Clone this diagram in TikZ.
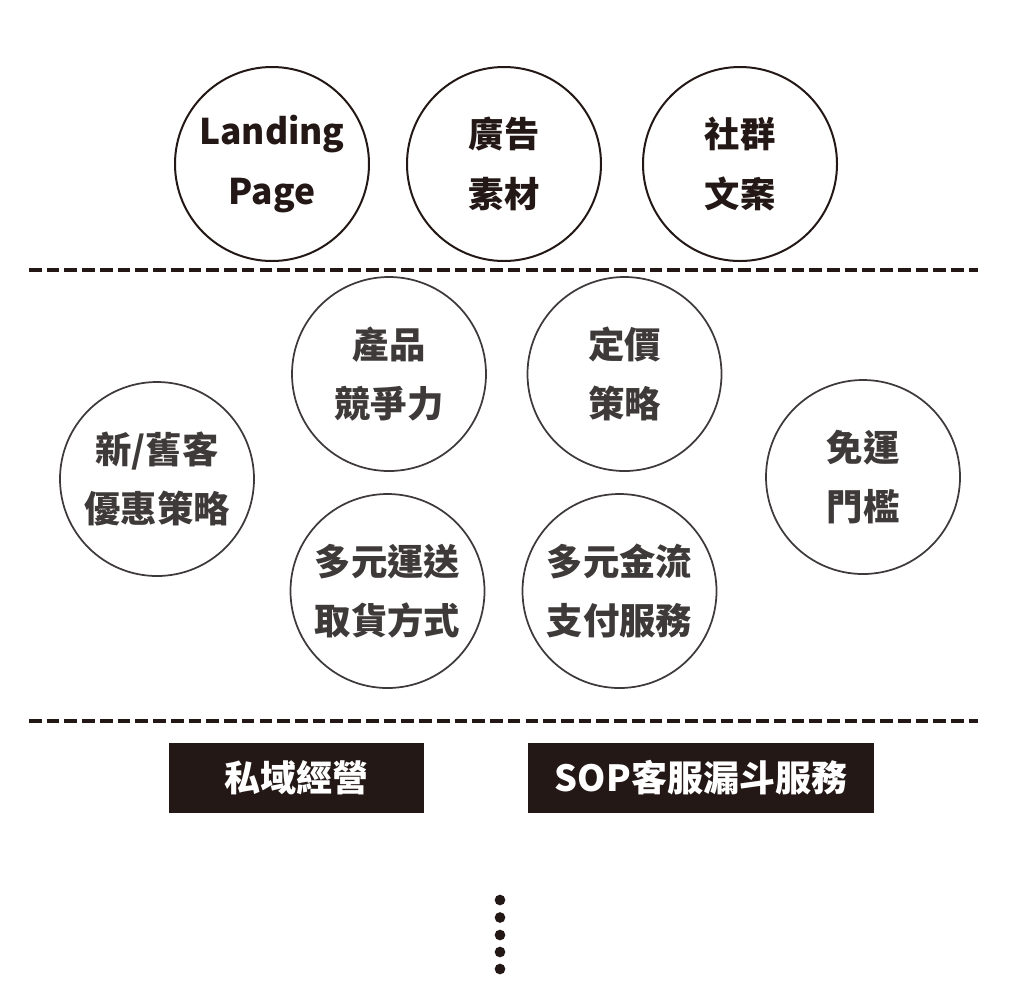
\documentclass[tikz,border=0pt]{standalone}
\usepackage{fontspec}
\newfontfamily\cjk{Noto Sans CJK TC}
\definecolor{ink}{HTML}{231815}
\definecolor{grayink}{HTML}{3E3A39}
\begin{document}
\begin{tikzpicture}[x=0.75pt,y=-0.75pt,
  topcirc/.style={circle,draw=ink,line width=1.5pt,minimum size=145.5pt,inner sep=0pt,
    text=ink,align=center,font=\cjk\bfseries\fontsize{26.5}{44.5}\selectfont},
  midcirc/.style={circle,draw=grayink,line width=1.3pt,minimum size=145.5pt,inner sep=0pt,
    text=grayink,align=center,font=\cjk\bfseries\fontsize{27.3}{44}\selectfont},
  blackbox/.style={rectangle,fill=ink,inner sep=0pt,text=white,
    font=\cjk\bfseries\fontsize{27}{30}\selectfont},
  divider/.style={ink,line width=2.5pt,dash pattern=on 9.5pt off 3.8pt},
  dot/.style={circle,fill=ink,inner sep=0pt,minimum size=8pt}]
\useasboundingbox (0,0) rectangle (1020,1004);
% top row
\node[topcirc] (landing) at (272,164) {Landing\\Page};
\node[topcirc] (ads) at (504,164) {廣告\\素材};
\node[topcirc] (social) at (740,164) {社群\\文案};
% divider 1
\coordinate (d1a) at (29,270);
\coordinate (d1b) at (978,270);
\draw[divider] (d1a) -- (d1b);
% middle
\node[midcirc] (product) at (389,374) {產品\\競爭力};
\node[midcirc] (pricing) at (624.5,374) {定價\\策略};
\node[midcirc] (promo) at (157,479) {新/舊客\\優惠策略};
\node[midcirc] (freeship) at (863,477) {免運\\門檻};
\node[midcirc] (delivery) at (387.5,591) {多元運送\\取貨方式};
\node[midcirc] (payment) at (619.5,591) {多元金流\\支付服務};
% divider 2
\coordinate (d2a) at (29,721);
\coordinate (d2b) at (978,721);
\draw[divider] (d2a) -- (d2b);
% black boxes
\node[blackbox,minimum width=191.25pt,minimum height=52.5pt] (private) at (296.5,778) {私域經營};
\node[blackbox,minimum width=259.5pt,minimum height=52.5pt] (sop) at (701,778) {SOP客服漏斗服務};
% dots
\node[dot] (p1) at (500,900) {};
\node[dot] (p2) at (500,917.5) {};
\node[dot] (p3) at (500,935) {};
\node[dot] (p4) at (500,952) {};
\node[dot] (p5) at (500,969) {};
\end{tikzpicture}
\end{document}
